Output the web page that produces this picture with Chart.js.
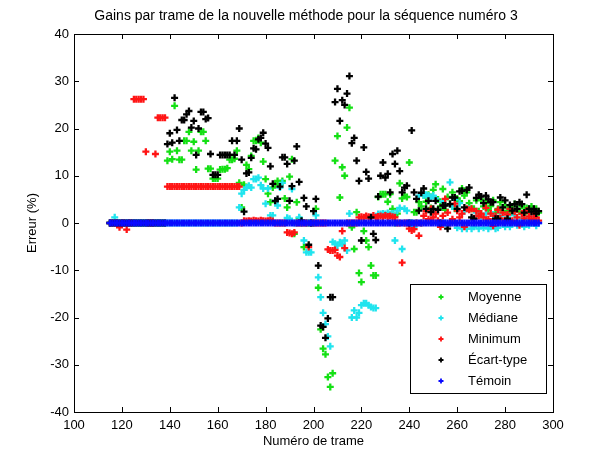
<!DOCTYPE html>
<html>
<head>
<meta charset="utf-8">
<script src="https://cdn.jsdelivr.net/npm/chart.js@4"></script>
<style>
  html, body { margin: 0; padding: 0; background: #fff; }
</style>
</head>
<body>
<canvas id="gainsChart" width="612" height="449"></canvas>
<script>
// Numéros de trame (abscisses)
const frames = [
  115, 116, 117, 118, 119, 120, 121, 122, 123, 124, 125, 126, 127, 128, 129, 130, 131, 132, 133, 134,
  135, 136, 137, 138, 139, 140, 141, 142, 143, 144, 145, 146, 147, 148, 149, 150, 151, 152, 153, 154,
  155, 156, 157, 158, 159, 160, 161, 162, 163, 164, 165, 166, 167, 168, 169, 170, 171, 172, 173, 174,
  175, 176, 177, 178, 179, 180, 181, 182, 183, 184, 185, 186, 187, 188, 189, 190, 191, 192, 193, 194,
  195, 196, 197, 198, 199, 200, 201, 202, 203, 204, 205, 206, 207, 208, 209, 210, 211, 212, 213, 214,
  215, 216, 217, 218, 219, 220, 221, 222, 223, 224, 225, 226, 227, 228, 229, 230, 231, 232, 233, 234,
  235, 236, 237, 238, 239, 240, 241, 242, 243, 244, 245, 246, 247, 248, 249, 250, 251, 252, 253, 254,
  255, 256, 257, 258, 259, 260, 261, 262, 263, 264, 265, 266, 267, 268, 269, 270, 271, 272, 273, 274,
  275, 276, 277, 278, 279, 280, 281, 282, 283, 284, 285, 286, 287, 288, 289, 290, 291, 292, 293, 294
];

// Erreur (%) par trame, une liste par méthode
const moyenne = [
  0, 0, 0, 0, 0, 0, 0, 0, 0,
  0, 0, 0, 0, 0, 0, 0, 0, 0, 0,
  0, 0, 0, 0, 0, 13.2, 15.1, 13.5, 24.8, 15.3,
  13.4, 13.4, 17.4, 17.4, 19.3, 15.3, 17.2, 11.3, 15.3, 19.3,
  19.3, 17.4, 11.5, 11.5, 9.4, 9.4, 9.4, 11.3, 11.4,
  11.4, 11.6, 13.4, 13.4, 13.6, 15.3, 8.5, 3.3, 8.1, 12.3,
  11.4, 14.2, 17.4, 17.4, 18.0, 17.0, 13.0, 9.3, 6.2, 4.4,
  7.5, 8.3, 8.9, 8.1, 8.9, 5.2, 3.3, 9.8, 13.5, -2.3,
  4.4, 1.0, 0, -5.1, 0, 0, 0, 0, 3.0, -13.7,
  -22.5, -26.6, -27.8, -32.6, -34.7, -31.8, 13.2, 18.4, 5.4, 11.8,
  10.0, 20.2, 24.4, -0.9, -5.5, 2.3, -10.6, -12.5, -1.7, -3.7,
  -5.1, -9.0, -11.1, -11.1, 5.5, 6.1, 6.1, 6.1, 4.5,
  6.1, 3.0, 0, 2.0, 8.4, 5.2, 5.8, 5.5, 12.8, 0,
  2.3, 2.3, 4.4, 3.5, 5.8, 4.5, 6.0, 3.2, 7.0, 8.2,
  5.0, 3.5, 7.2, 2.8, 5.5, 4.0, 6.5, 3.0, 5.2, 4.6,
  7.3, 5.8, 6.5, 4.2, 3.0, 3.0, 4.8, 2.5, 5.0,
  3.5, 4.2, 2.8, 3.6, 4.8, 2.2, 3.0, 4.4, 2.6, 3.8,
  2.5, 3.4, 2.2, 4.0, 3.0, 2.4, 3.6, 2.0, 3.2, 2.8,
  3.5, 2.6, 3.0, 2.2
];

const mediane = [
  0, 0, 1.2, 0, 0, 0, 0, 0, 0,
  0, 0, 0, 0, 0, 0, 0, 0, 0, 0,
  0, 0, 0, 0, 0, 0, 0, 0, 0, 0,
  0, 0, 0, 0, 0, 0, 0, 0, 0, 0,
  0, 0, 0, 0, 0, 0, 0, 0, 0, 0,
  0, 0, 0, 0, 0, 3.3, 6.2, 7.0, 7.5,
  7.9, 7.5, 9.3, 9.3, 9.6, 8.0, 7.3, 4.1, 7.3, 1.6,
  1.6, 4.7, 3.7, 7.5, 8.5, 0, 1.1, 0.9, 7.2, 0,
  0, 1.2, 0, -3.7, -6.2, -6.2, -6.2, 0, 1.6, -11.5,
  -15.7, -19.0, -21.4, -24.0, -26.1, -4.0, -4.4, -4.8, -4.1, -4.4,
  -3.7, -5.8, 2.0, -20.0, -18.5, -20.0, -19.0, -17.4, -17.0, -17.0,
  -17.4, -17.8, -18.0, -18.0, 1.9, 1.9, 2.0, 1.9, 2.1,
  1.9, 2.0, -3.7, 2.6, 3.2, -5.5, 3.0, 2.6, 0, 0,
  -0.8, 0, 5.8, 0, 5.8, 6.0, 5.8, 5.5, 5.8, 5.2,
  0, -0.5, 4.5, 0, -0.5, 8.6, 3.5, 5.0, -1.0, 4.2,
  -1.2, 2.5, -1.2, 3.0, -1.2, -0.8, 2.2, -1.2, 1.5,
  -1.0, 2.0, -1.2, -0.8, 1.8, -1.2, -1.0, 1.5, 0, -0.8,
  1.2, -0.8, 0, 1.6, -0.5, 0, 1.0, -0.8, 0.8, -0.5,
  0, 1.0, -0.6, 0
];

const minimum = [
  0, 0, 0, 0, -0.9, 0, 0, -1.4, 0,
  0, 26.2, 26.2, 26.2, 26.2, 26.2, 15.1, 0, 0, 0,
  14.6, 22.3, 22.3, 22.3, 22.3, 7.7, 7.7, 7.7, 7.7, 7.7,
  7.7, 7.7, 7.7, 7.7, 7.7, 7.7, 7.7, 7.7, 7.7, 7.7,
  7.7, 7.7, 7.7, 7.7, 7.7, 7.7, 7.7, 7.7, 7.7,
  7.7, 7.7, 7.7, 7.7, 7.7, 7.7, 7.7, 0, 0.5, 0.4,
  0.5, 0.4, 0.6, 0.5, 0.4, 0.6, 0.5, 0.4, 0.5, 0.6,
  0.4, 0, 0, 0, 0, 0, -2.0, -2.1, -2.3, -2.0,
  0, 0, 0, 0, 0, -5.1, 0, 0, 0, 0,
  0, 0, 0, -5.6, -5.8, -5.8, -5.7, -6.9, -7.2, -1.7,
  -5.3, 0, 0, 0, 0, 0, 1.2, 1.3, 1.2,
  1.5, 1.3, 1.2, 1.6, 1.2, 1.4, 1.5, 1.3, 1.6, 1.4,
  1.5, 1.3, 1.2, 0, 0, -8.4, 0, 0, -1.2, -1.6,
  -1.3, 0, -2.7, 0, 1.5, 2.5, 0.8, 3.0, 1.2, 2.0,
  0.5, -0.8, 1.5, 5.1, 2.2, 0, 0.8, 4.1, 2.6, 1.2,
  2.0, -0.8, 3.0, 2.8, 3.0, 1.0, 2.5, 1.5, 2.0,
  1.2, 3.2, 0.8, 2.0, -0.6, 1.5, 2.8, 1.0, 2.2, 0.6,
  1.8, 3.0, 0.5, 2.4, 1.2, -0.5, 2.0, 1.0, 2.6, 1.4,
  0.8, 2.0, 1.2, 0.5
];

const ecartType = [
  0, 0, 0, 0, 0, 0, 0, 0, 0,
  0, 0, 0, 0, 0, 0, 0, 0, 0, 0,
  0, 0, 0, 0, 0, 16.7, 19.0, 17.0, 26.5, 19.7,
  17.4, 21.8, 21.8, 23.0, 23.7, 20.2, 21.6, 14.4, 20.0, 23.5,
  23.5, 22.0, 22.2, 14.6, 10.2, 10.2, 10.2, 14.4, 14.4, 14.4,
  14.4, 14.4, 17.4, 14.4, 17.4, 20.0, 13.4, 2.4, 10.5, 10.7,
  13.8, 15.8, 15.6, 17.7, 18.0, 19.1, 16.8, 15.9, 12.0, 8.3,
  4.7, 5.1, 7.7, 13.9, 13.9, 12.5, 4.7, 7.8, 13.2, 16.2,
  8.7, 0.5, 5.3, 3.5, -4.6, 0, 2.5, 5.1, -9.0,
  -21.7, -22.0, -24.3, -20.2, -15.7, -15.7, 25.6, 28.4, 21.6, 26.0,
  25.0, 27.4, 31.1, 16.9, 18.0, 13.2, 8.9, -3.7, 16.0, 10.8,
  9.4, 1.2, -2.3, -3.6, 5.6, 10.0, 12.8, 9.6, 10.4, 6.5,
  14.6, 12.5, 15.3, 11.0, 6.5, 7.5, 7.9, 0, 19.6,
  6.5, 5.1, 2.6, 6.4, 7.3, 3.0, 4.7, 2.3, 3.0, 4.7,
  2.8, 0, 3.7, 3.7, -1.2, 4.0, 5.4, 5.4, 3.0, 6.7,
  6.8, 3.3, 7.0, 7.5, 1.2, 0.9, 5.3, 6.0, 5.6,
  4.2, 5.8, 5.0, 4.4, 4.4, 0.9, 0.9, 5.4, 3.3, 4.8,
  0.9, 3.8, 2.6, 4.0, 3.0, 4.4, 4.0, 2.2, 6.0, 3.0,
  2.4, 3.0, 2.0, 2.5
];

const temoin = [
  0, 0, 0, 0, 0, 0, 0, 0, 0, 0, 0, 0, 0, 0, 0, 0, 0, 0, 0, 0,
  0, 0, 0, 0, 0, 0, 0, 0, 0, 0, 0, 0, 0, 0, 0, 0, 0, 0, 0, 0,
  0, 0, 0, 0, 0, 0, 0, 0, 0, 0, 0, 0, 0, 0, 0, 0, 0, 0, 0, 0,
  0, 0, 0, 0, 0, 0, 0, 0, 0, 0, 0, 0, 0, 0, 0, 0, 0, 0, 0, 0,
  0, 0, 0, 0, 0, 0, 0, 0, 0, 0, 0, 0, 0, 0, 0, 0, 0, 0, 0, 0,
  0, 0, 0, 0, 0, 0, 0, 0, 0, 0, 0, 0, 0, 0, 0, 0, 0, 0, 0, 0,
  0, 0, 0, 0, 0, 0, 0, 0, 0, 0, 0, 0, 0, 0, 0, 0, 0, 0, 0, 0,
  0, 0, 0, 0, 0, 0, 0, 0, 0, 0, 0, 0, 0, 0, 0, 0, 0, 0, 0, 0,
  0, 0, 0, 0, 0, 0, 0, 0, 0, 0, 0, 0, 0, 0, 0, 0, 0, 0, 0, 0
];

const fontFamily = "'Liberation Sans', Arial, sans-serif";

const colors = {
  moyenne: "#14e014",
  mediane: "#20e4ee",
  minimum: "#ff1414",
  ecart: "#000000",
  temoin: "#0a0aff",
};

function points(values) {
  return frames.map((f, i) => ({ x: f, y: values[i] }));
}

function serie(label, values, color, order) {
  return {
    label: label,
    data: points(values),
    order: order,
    pointStyle: "cross",
    pointRadius: 3.5,
    pointHoverRadius: 3.5,
    pointBorderWidth: 2.3,
    pointBorderColor: color,
    pointBackgroundColor: color,
    showLine: false,
  };
}

// cadre façon Matlab (ticks vers l'intérieur) + légende dans le graphe
const matlabFrame = {
  id: "matlabFrame",
  afterDraw(chart) {
    const { ctx, chartArea: a, scales } = chart;
    ctx.save();
    ctx.strokeStyle = "#000";
    ctx.lineWidth = 1;
    ctx.strokeRect(a.left + 0.5, a.top + 0.5, a.right - a.left, a.bottom - a.top);

    ctx.beginPath();
    scales.x.ticks.forEach((t) => {
      const px = Math.round(scales.x.getPixelForValue(t.value)) + 0.5;
      ctx.moveTo(px, a.bottom);
      ctx.lineTo(px, a.bottom - 5);
      ctx.moveTo(px, a.top);
      ctx.lineTo(px, a.top + 5);
    });
    scales.y.ticks.forEach((t) => {
      const py = Math.round(scales.y.getPixelForValue(t.value)) + 0.5;
      ctx.moveTo(a.left, py);
      ctx.lineTo(a.left + 5, py);
      ctx.moveTo(a.right, py);
      ctx.lineTo(a.right - 5, py);
    });
    ctx.stroke();

    // légende
    const boxW = 136, boxH = 109;
    const bx = a.right - 7 - boxW;
    const by = a.bottom - 19 - boxH;
    ctx.fillStyle = "#fff";
    ctx.fillRect(bx, by, boxW, boxH);
    ctx.strokeRect(bx + 0.5, by + 0.5, boxW, boxH);

    ctx.font = "13px " + fontFamily;
    ctx.textBaseline = "middle";
    ctx.textAlign = "left";
    chart.data.datasets.forEach((ds, i) => {
      const y = by + 13 + i * 21;
      const mx = bx + 31;
      ctx.strokeStyle = ds.pointBorderColor;
      ctx.lineWidth = 1.8;
      ctx.beginPath();
      ctx.moveTo(mx - 2.5, y);
      ctx.lineTo(mx + 2.5, y);
      ctx.moveTo(mx, y - 2.5);
      ctx.lineTo(mx, y + 2.5);
      ctx.stroke();
      ctx.fillStyle = "#000";
      ctx.fillText(ds.label, bx + 58, y);
    });
    ctx.restore();
  },
};

const ctx = document.getElementById("gainsChart").getContext("2d");
new Chart(ctx, {
  type: "scatter",
  data: {
    datasets: [
      serie("Moyenne", moyenne, colors.moyenne, 5),
      serie("Médiane", mediane, colors.mediane, 4),
      serie("Minimum", minimum, colors.minimum, 3),
      serie("Écart-type", ecartType, colors.ecart, 2),
      serie("Témoin", temoin, colors.temoin, 1),
    ],
  },
  options: {
    responsive: false,
    animation: false,
    events: [],
    layout: { padding: 0 },
    plugins: {
      legend: { display: false },
      tooltip: { enabled: false },
      title: {
        display: true,
        text: "Gains par trame de la nouvelle méthode pour la séquence numéro 3",
        color: "#000",
        font: { family: fontFamily, size: 14, weight: "normal" },
        padding: { top: 7.6, bottom: 9.6 },
      },
    },
    scales: {
      x: {
        type: "linear",
        min: 100,
        max: 300,
        ticks: {
          stepSize: 20,
          color: "#000",
          padding: 6,
          maxRotation: 0,
          font: { family: fontFamily, size: 13 },
        },
        grid: { display: false, drawTicks: false },
        border: { display: false },
        title: {
          display: true,
          text: "Numéro de trame",
          color: "#000",
          font: { family: fontFamily, size: 13 },
          padding: { top: 0, bottom: 0 },
        },
        afterFit(scale) {
          scale.height = 37;
        },
      },
      y: {
        min: -40,
        max: 40,
        ticks: {
          stepSize: 10,
          color: "#000",
          padding: 5,
          font: { family: fontFamily, size: 13 },
        },
        grid: { display: false, drawTicks: false },
        border: { display: false },
        title: {
          display: true,
          text: "Erreur (%)",
          color: "#000",
          font: { family: fontFamily, size: 13 },
          padding: { top: 25, bottom: 0 },
        },
        afterFit(scale) {
          scale.width = 74;
        },
      },
      yRight: {
        position: "right",
        grid: { display: false, drawTicks: false },
        border: { display: false },
        ticks: { display: false },
        afterFit(scale) {
          scale.width = 59;
        },
      },
    },
  },
  plugins: [matlabFrame],
});
</script>
</body>
</html>
